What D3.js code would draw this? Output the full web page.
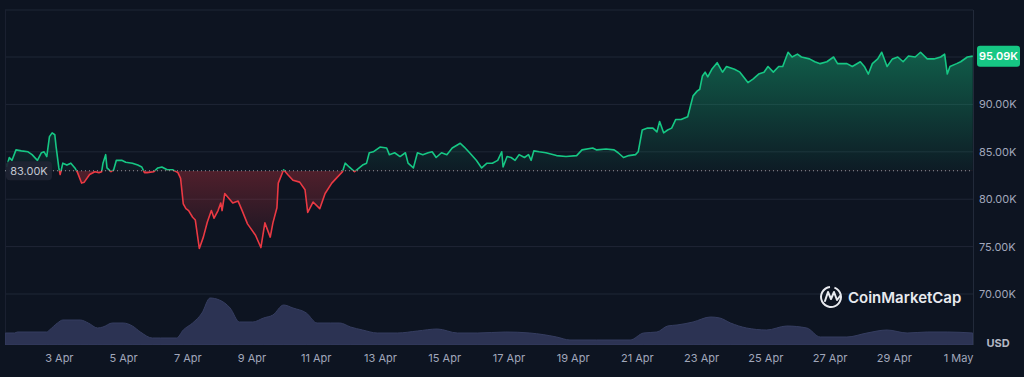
<!DOCTYPE html>
<html>
<head>
<meta charset="utf-8">
<script src="https://cdn.jsdelivr.net/npm/d3@7"></script>
<style>
  html, body { margin: 0; padding: 0; background: #0d1421; }
  svg { display: block; font-family: Inter, "Noto Sans", sans-serif; }
</style>
</head>
<body>
<svg id="chart"></svg>
<script>
// data (hours counted from 1 Apr 2025 00:00 UTC)
var priceHours = [9,11,13,16,20,25,28,32,35,37,39,41,43,45,46,48,49,51,54,57,60,62,65,67,71,75,78,80,81,83,84,87,89,91,95,98,103,107,110,112,114,
  119,122,125,129,133,137,139,141,143,145,148,150,153,156,159,162,164,167,169,170,172,175,178,182,185,189,191,195,199,202,206,208,211,212,216,219,223,228,232,234,238,243,247,252,256,260,262,265,269,275,278,280,283,288,293,295,299,303,307,309,313,316,320,324,327,330,334,338,342,348,351,355,360,364,368,372,376,379,380,383,386,389,392,396,399,401,403,407,412,420,427,435,439,447,450,
  457,463,466,470,474,479,481,484,488,492,495,497,500,503,506,509,513,518,520,522,525,527,529,531,533,536,540,544,547,553,557,563,567,571,575,578,582,586,589,593,596,600,603,609,613,617,622,627,630,637,641,647,650,653,656,660,663,667,671,675,679,683,688,692,697,702,707,710,712,714,719,722,727,731];
var priceValues = [83.4,84.4,84.1,85.2,85.1,85.0,84.7,84.1,84.9,85.0,84.5,86.6,87.0,86.8,85.5,83.3,82.6,83.8,83.6,83.8,83.3,82.8,81.7,81.8,82.6,82.9,82.8,82.9,83.8,84.7,83.3,82.9,83.1,84.1,84.1,83.9,83.8,83.6,83.4,82.8,82.8,
  82.9,83.3,83.4,83.1,83.1,82.8,82.2,79.5,79.0,78.8,78.1,77.8,74.8,76.0,77.6,78.8,78.0,78.8,79.6,78.8,80.6,80.1,79.6,79.8,78.8,77.4,77.0,76.2,74.9,77.5,76.0,77.5,79.1,81.7,83.1,82.6,82.0,81.8,81.0,78.6,79.7,79.0,80.6,81.7,82.3,82.9,83.8,83.4,82.9,83.6,83.8,84.9,85.0,85.5,85.4,84.7,84.9,84.5,84.9,83.8,83.3,84.9,84.7,84.9,85.0,84.4,84.9,84.7,85.4,85.9,85.5,84.9,84.1,83.3,83.8,83.8,84.1,85.0,83.4,84.5,84.4,84.1,84.7,84.4,84.7,84.1,85.1,85.0,84.9,84.6,84.5,84.6,85.2,85.4,85.2,
  85.3,85.2,84.9,84.4,84.6,84.7,85.0,87.3,87.5,87.5,87.1,88.2,87.0,87.3,87.5,88.4,88.4,88.7,89.8,90.9,91.4,91.6,93.0,93.4,92.9,93.7,94.4,93.4,94.0,93.7,93.4,92.3,92.7,93.2,93.4,94.0,93.4,94.0,94.0,95.5,95.0,95.3,95.0,94.8,94.5,94.3,94.5,95.0,94.3,94.3,94.0,94.5,94.0,93.2,94.3,94.8,95.5,94.0,94.8,95.0,94.5,95.1,95.0,95.5,94.8,94.8,95.0,95.3,93.2,94.0,94.3,94.5,95.0,95.09];

// volume in billions USD
var volumeHours = [8,15,17,39,41,47,51,64,70,77,81,88,96,103,109,118,124,136,141,148,155,161,168,176,183,193,201,208,216,223,233,241,251,258,266,275,286,301,316,331,346,361,382,400,420,430,450,475,485,495,503,510,522,535,542,550,562,577,592,607,617,637,652,667,682,697,712,731];
var volumeValues = [12,12,13,13,15,22,25,25,22,17,18,22,22,19,13,7,7,7,15,22,32,47,45,37,23,23,27,30,40,37,32,22,22,22,18,15,12,12,14,16,12,12,13,12,8,5,5,5,12,13,19,20,23,28,27,22,17,15,19,17,8,8,12,15,12,13,13,12];

var yTicks = [70, 75, 80, 85, 90];
var xTickLabels = ["3 Apr","5 Apr","7 Apr","9 Apr","11 Apr","13 Apr","15 Apr","17 Apr","19 Apr","21 Apr","23 Apr","25 Apr","27 Apr","29 Apr","1 May"];
var baseline = 83.0;
var lastPrice = 95.09;

var width = 1024, height = 377;
var plotLeft = 5, plotRight = 973, plotTop = 10, plotBottom = 345;

var svg = d3.select("#chart").attr("width", width).attr("height", height);
svg.append("rect").attr("width", width).attr("height", height).attr("fill", "#0d1421");

var start = Date.UTC(2025, 3, 1);
var toDate = function(h) { return new Date(start + h * 3600e3); };
var price = priceHours.map(function(h, i) { return { date: toDate(h), v: priceValues[i] }; });
var volume = volumeHours.map(function(h, i) { return { date: toDate(h), v: volumeValues[i] }; });

//scales
var x = d3.scaleUtc()
    .domain([new Date(start), new Date(Date.UTC(2025, 4, 1))])
    .range([-5.4, 958]);
var y = d3.scaleLinear().domain([70, 95]).range([294, 57]);
var yVol = d3.scaleLinear().domain([0, 50]).range([plotBottom, plotBottom - 50]);

var defs = svg.append("defs");
var yBase = y(baseline);

defs.append("clipPath").attr("id", "plot")
  .append("rect").attr("x", plotLeft).attr("y", plotTop).attr("width", plotRight - plotLeft).attr("height", plotBottom - plotTop);
defs.append("clipPath").attr("id", "above")
  .append("rect").attr("x", plotLeft).attr("y", plotTop).attr("width", plotRight - plotLeft).attr("height", yBase - plotTop);
defs.append("clipPath").attr("id", "below")
  .append("rect").attr("x", plotLeft).attr("y", yBase).attr("width", plotRight - plotLeft).attr("height", plotBottom - yBase);

var gGreen = defs.append("linearGradient").attr("id", "gGreen")
  .attr("gradientUnits", "userSpaceOnUse").attr("x1", 0).attr("x2", 0).attr("y1", y(96)).attr("y2", yBase);
gGreen.append("stop").attr("offset", 0).attr("stop-color", "#16c784").attr("stop-opacity", 0.42);
gGreen.append("stop").attr("offset", 1).attr("stop-color", "#16c784").attr("stop-opacity", 0.04);

var gRed = defs.append("linearGradient").attr("id", "gRed")
  .attr("gradientUnits", "userSpaceOnUse").attr("x1", 0).attr("x2", 0).attr("y1", yBase).attr("y2", y(74));
gRed.append("stop").attr("offset", 0).attr("stop-color", "#ea3943").attr("stop-opacity", 0.3);
gRed.append("stop").attr("offset", 1).attr("stop-color", "#ea3943").attr("stop-opacity", 0.02);

//grid
svg.append("g").selectAll("line")
  .data(yTicks.concat([95]))
  .join("line")
    .attr("x1", plotLeft).attr("x2", plotRight)
    .attr("y1", function(d) { return y(d); }).attr("y2", function(d) { return y(d); })
    .attr("stroke", "#1f2636").attr("stroke-width", 1);
svg.append("line").attr("x1", plotLeft).attr("x2", plotRight).attr("y1", plotTop).attr("y2", plotTop)
  .attr("stroke", "#1f2636");
svg.append("line").attr("x1", plotRight + 0.5).attr("x2", plotRight + 0.5).attr("y1", plotTop).attr("y2", plotBottom)
  .attr("stroke", "#222a3a");
svg.append("line").attr("x1", plotLeft + 0.5).attr("x2", plotLeft + 0.5).attr("y1", plotTop).attr("y2", plotBottom)
  .attr("stroke", "#1a2030");

//volume
var volArea = d3.area()
  .x(function(d) { return x(d.date); })
  .y0(plotBottom)
  .y1(function(d) { return yVol(d.v); })
  .curve(d3.curveMonotoneX);
svg.append("path").datum(volume)
  .attr("clip-path", "url(#plot)")
  .attr("d", volArea)
  .attr("fill", "#2c3353")
  .attr("stroke", "#353d60").attr("stroke-width", 1);

//price area + line
var area = d3.area()
  .x(function(d) { return x(d.date); })
  .y0(yBase)
  .y1(function(d) { return y(d.v); });
var line = d3.line()
  .x(function(d) { return x(d.date); })
  .y(function(d) { return y(d.v); });

var gAbove = svg.append("g").attr("clip-path", "url(#above)");
gAbove.append("path").datum(price).attr("d", area).attr("fill", "url(#gGreen)");
gAbove.append("path").datum(price).attr("d", line).attr("fill", "none")
  .attr("stroke", "#16c784").attr("stroke-width", 1.6).attr("stroke-linejoin", "round");

var gBelow = svg.append("g").attr("clip-path", "url(#below)");
gBelow.append("path").datum(price).attr("d", area).attr("fill", "url(#gRed)");
gBelow.append("path").datum(price).attr("d", line).attr("fill", "none")
  .attr("stroke", "#ea3943").attr("stroke-width", 1.6).attr("stroke-linejoin", "round");

//baseline
svg.append("line").attr("x1", plotLeft).attr("x2", plotRight).attr("y1", yBase).attr("y2", yBase)
  .attr("stroke", "#c9ccd4").attr("stroke-opacity", 0.7)
  .attr("stroke-width", 1).attr("stroke-dasharray", "1,3");

var bl = svg.append("g").attr("transform", "translate(6," + (yBase - 9.5) + ")");
bl.append("rect").attr("width", 46).attr("height", 19).attr("rx", 4)
  .attr("fill", "#1e2433").attr("fill-opacity", 0.92);
bl.append("text").attr("x", 23).attr("y", 13.5).attr("text-anchor", "middle")
  .attr("font-size", 11).attr("fill", "#c3c7d1").text(baseline.toFixed(2) + "K");

//y axis on the right
var yAxis = d3.axisRight(y).tickValues(yTicks).tickSize(0).tickPadding(6)
  .tickFormat(function(d) { return d.toFixed(2) + "K"; });
var gy = svg.append("g").attr("transform", "translate(" + plotRight + ",0)").call(yAxis);
gy.select(".domain").remove();
gy.selectAll("text").attr("font-size", 11).attr("fill", "#a1a7bb").attr("font-family", "Inter, sans-serif");

//last price label
var lp = svg.append("g").attr("transform", "translate(977," + (y(lastPrice) - 10.5) + ")");
lp.append("rect").attr("width", 43).attr("height", 21).attr("rx", 3).attr("fill", "#16c784");
lp.append("text").attr("x", 21.5).attr("y", 14.5).attr("text-anchor", "middle")
  .attr("font-size", 11).attr("font-weight", 600).attr("fill", "#ffffff").text(lastPrice.toFixed(2) + "K");

svg.append("text").attr("x", 998).attr("y", 347).attr("text-anchor", "middle")
  .attr("font-size", 11).attr("font-weight", 700).attr("fill", "#b4b8c4").text("USD");

//x axis
var parseTick = d3.utcParse("%d %b %Y");
var xAxis = d3.axisBottom(x)
  .tickValues(xTickLabels.map(function(s) { return parseTick(s + " 2025"); }))
  .tickSize(0).tickPadding(9)
  .tickFormat(function(d, i) { return xTickLabels[i]; });
var gx = svg.append("g").attr("transform", "translate(0," + plotBottom + ")").call(xAxis);
gx.select(".domain").remove();
gx.selectAll("text").attr("font-size", 11).attr("fill", "#a1a7bb").attr("font-family", "Inter, sans-serif");

//watermark
var wm = svg.append("g").attr("transform", "translate(831,297)");
wm.append("path")
  .attr("d", d3.arc()({ innerRadius: 9, outerRadius: 11, startAngle: 0.35, endAngle: 2 * Math.PI - 0.1 }))
  .attr("fill", "#e8eaef");
wm.append("path").attr("d", "M-6,4 L-3,-5 L0,2 L3,-5 L6,3 L9,-1")
  .attr("fill", "none").attr("stroke", "#e8eaef").attr("stroke-width", 2)
  .attr("stroke-linejoin", "round").attr("stroke-linecap", "round");
svg.append("text").attr("x", 848).attr("y", 302.5)
  .attr("font-size", 15).attr("font-weight", 600).attr("fill", "#e8eaef")
  .text("CoinMarketCap");
</script>
</body>
</html>
